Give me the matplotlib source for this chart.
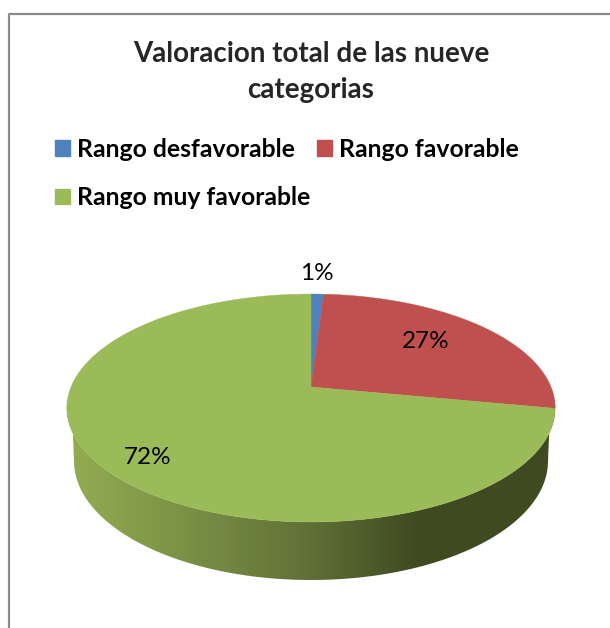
"""Pastel 3D de la valoracion total, dibujado con perspectiva sobre matplotlib."""

import numpy as np
import matplotlib.pyplot as plt
from matplotlib.colors import LinearSegmentedColormap
from matplotlib.patches import Patch, Polygon

plt.rcParams["font.family"] = ["Lato", "DejaVu Sans"]

TITLE = "Valoracion total de las nueve\ncategorias"
CATEGORIES = ["Rango desfavorable", "Rango favorable", "Rango muy favorable"]
VALUES = [1, 27, 72]
COLORS = ["#4F81BD", "#C0504D", "#9BBB59"]
PCT_POS = [(317, 273), (426, 342), (148, 458)]

# Proyeccion del disco (pixeles)
CX, CY = 311, 387
R = 240
A = 110.1
K = 0.1842


def proyectar(theta_deg):
    """Pasa un angulo del pastel (grados, matematico) al disco en perspectiva."""
    t = np.radians(theta_deg)
    u, v = np.cos(t), np.sin(t)
    d = 1 + K * v
    return CX + R * u / d, CY - A * v / d


fig = plt.figure(figsize=(6.10, 6.28), dpi=100)
ax = fig.add_axes([0, 0, 1, 1])

wedges, _ = ax.pie(VALUES, colors=COLORS, startangle=90, counterclock=False)
angulos = [(w.theta1, w.theta2) for w in wedges]
for w in wedges:
    w.remove()

ax.set_aspect("auto")
ax.set_xlim(0, 610)
ax.set_ylim(628, 0)
ax.axis("off")

# Marco del grafico
ax.plot([8.5, 8.5, 610], [628, 13.5, 13.5], color="#8C8C8C", lw=1.6, zorder=1)

# Lateral con degradado
xt, yt = proyectar(np.linspace(180, 360, 200))
tb = np.radians(np.linspace(180, 360, 200))
xb = 311 + 237 * np.cos(tb)
yb = 461 + 119 * np.sin(-tb)
lado = Polygon(np.r_[np.c_[xt, yt], np.c_[xb, yb][::-1]], closed=True,
               transform=ax.transData, fc="none", ec="none")
ax.add_patch(lado)
cmap = LinearSegmentedColormap.from_list("lado", [
    (0.00, "#93AD52"),
    (0.25, "#7A9045"),
    (0.50, "#5F7036"),
    (0.72, "#3F4A20"),
    (1.00, "#3F4A20"),
])
img = ax.imshow(np.linspace(0, 1, 256)[None, :], cmap=cmap, aspect="auto",
                extent=(67, 555, 585, 400), zorder=2)
img.set_clip_path(lado)
ax.set_xlim(0, 610)
ax.set_ylim(628, 0)

# Tapa del pastel
for (t1, t2), color in zip(angulos, COLORS):
    xs, ys = proyectar(np.linspace(t1, t2, 200))
    ax.fill(np.r_[CX, xs], np.r_[CY, ys], color=color, lw=0.3, zorder=3)

for (x, y), v in zip(PCT_POS, VALUES):
    ax.text(x, y, f"{v}%", ha="center", va="center", fontsize=17.5, color="black", zorder=4)

ax.text(311, 72, TITLE, ha="center", va="center", fontsize=20, fontweight="bold",
        color="#262626", linespacing=1.45)

handles = [Patch(color=c) for c in COLORS]
orden = [0, 2, 1]
ax.legend([handles[i] for i in orden], [CATEGORIES[i] for i in orden], ncol=2,
          loc="upper left", bbox_to_anchor=(55, 138), bbox_transform=ax.transData,
          frameon=False, prop={"size": 17.8, "weight": "bold"}, handlelength=0.6,
          handleheight=0.6, handletextpad=0.28, columnspacing=0.3, labelspacing=1.02,
          borderpad=0, borderaxespad=0)

fig.savefig("out.png", dpi=100)
